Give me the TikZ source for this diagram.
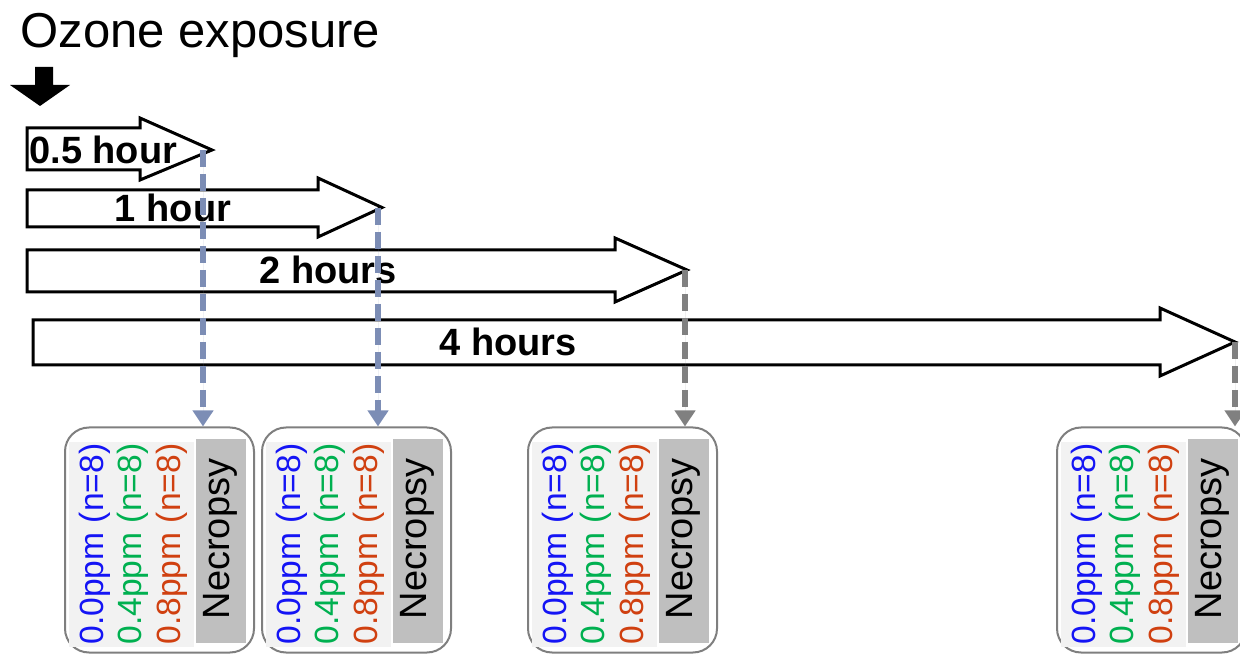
\documentclass[tikz,border=0pt]{standalone}
\usepackage{fontspec}
\setmainfont{Liberation Sans}
\usetikzlibrary{arrows.meta}
\definecolor{dashblue}{RGB}{124,141,181}
\definecolor{dashgray}{RGB}{128,128,128}
\definecolor{boxgray}{RGB}{127,127,127}
\definecolor{panellight}{RGB}{242,242,242}
\definecolor{panelnec}{RGB}{191,191,191}
\definecolor{txtblue}{RGB}{20,20,245}
\definecolor{txtgreen}{RGB}{0,176,80}
\definecolor{txtred}{RGB}{208,64,16}
\tikzset{
  blockarrow/.style={draw=black, fill=white, line width=1.5pt, miter limit=10},
  arrowlabel/.style={font=\fontsize{19}{22}\selectfont\bfseries, inner sep=0pt},
  samplebox/.style={draw=boxgray, line width=1pt, rounded corners=12pt, minimum width=94.5pt, minimum height=112.5pt, inner sep=0pt},
  lightpanel/.style={fill=panellight, draw=none, minimum width=62.5pt, minimum height=102.5pt, inner sep=0pt},
  necpanel/.style={fill=panelnec, draw=none, minimum width=25pt, minimum height=102pt, inner sep=0pt},
  coltext/.style={rotate=90, font=\fontsize{16.8}{19}\selectfont, inner sep=0pt},
  nectext/.style={rotate=90, font=\fontsize{19}{22}\selectfont, inner sep=0pt},
  dashcon/.style={line width=2.75pt, dash pattern=on 8.5pt off 3.5pt, -{Triangle[length=8pt,width=10pt]}},
}
% #1 = box left x, #2 = name
\newcommand\samplegroup[2]{%
  \node[samplebox] (#2) at ({#1+94.5},540) {};
  \node[lightpanel] (#2l) at ({#1+66.5},544.5) {};
  \node[necpanel] (#2n) at ({#1+155.5},541) {};
  \node[coltext, text=txtblue] (#2a) at ({#1+30},544) {0.0ppm (n=8)};
  \node[coltext, text=txtgreen] (#2b) at ({#1+68},544) {0.4ppm (n=8)};
  \node[coltext, text=txtred] (#2c) at ({#1+107},544) {0.8ppm (n=8)};
  \node[nectext] (#2t) at ({#1+155},539) {Necropsy};
}
\begin{document}
\begin{tikzpicture}[x=0.5pt,y=-0.5pt]
\useasboundingbox (0,0) rectangle (1240,656);
% title
\node[anchor=base west, inner sep=0pt, font=\fontsize{24.5}{28}\selectfont] (title) at (20,48) {Ozone exposure};
% black down arrow
\fill[black] (35,67) -- (53,67) -- (53,85) -- (70,85) -- (40,106) -- (10,85) -- (35,85) -- cycle;
% block arrows
\draw[blockarrow] (27,128) -- (140,128) -- (140,118) -- (212,150) -- (140,180) -- (140,170) -- (27,170) -- cycle;
\draw[blockarrow] (27,190) -- (318,190) -- (318,178) -- (382,207.5) -- (318,237) -- (318,227) -- (27,227) -- cycle;
\draw[blockarrow] (27,250) -- (615,250) -- (615,238) -- (687,270) -- (615,302) -- (615,292) -- (27,292) -- cycle;
\draw[blockarrow] (33,320) -- (1160,320) -- (1160,308) -- (1235,342) -- (1160,376) -- (1160,365) -- (33,365) -- cycle;
\node[arrowlabel, anchor=west] (l05) at (29,150) {0.5 hour};
\node[arrowlabel] (l1) at (173,208) {1 hour};
\node[arrowlabel] (l2) at (328,270) {2 hours};
\node[arrowlabel] (l4) at (508,342) {4 hours};
% tips
\coordinate (t05) at (203,150);
\coordinate (t1) at (378,208);
\coordinate (t2) at (685,270);
\coordinate (t4) at (1235,342);
% sample boxes
\samplegroup{65}{b1}
\samplegroup{262}{b2}
\samplegroup{528}{b3}
\samplegroup{1057}{b4}
% dashed connectors
\draw[dashcon, draw=dashblue, fill=dashblue] (t05) -- (t05 |- b1.north);
\draw[dashcon, draw=dashblue, fill=dashblue] (t1) -- (t1 |- b2.north);
\draw[dashcon, draw=dashgray, fill=dashgray] (t2) -- (t2 |- b3.north);
\draw[dashcon, draw=dashgray, fill=dashgray] (t4) -- (t4 |- b4.north);
\end{tikzpicture}
\end{document}
